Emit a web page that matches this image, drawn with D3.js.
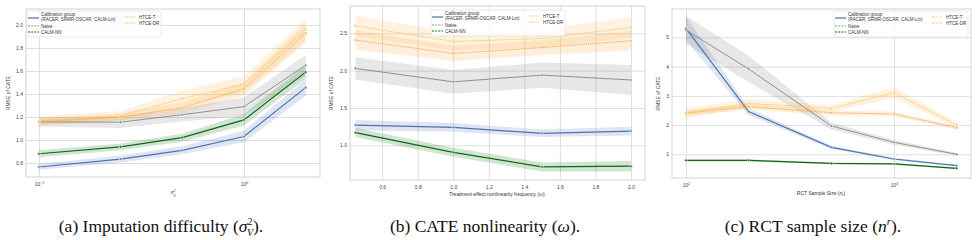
<!DOCTYPE html>
<html>
<head>
<meta charset="utf-8">
<script src="https://cdn.jsdelivr.net/npm/d3@7"></script>
<style>
body{margin:0;background:#fff;}
svg{display:block;font-family:"Liberation Sans",Arial,sans-serif;}
.axis path{display:none;}
.axis line{stroke:#dedede;stroke-width:1;}
.axis text{fill:#444;font-size:5px;}
.frame{fill:none;stroke:#d4d4d4;stroke-width:1;}
.axisLabel{fill:#333;font-size:5px;}
.legendText{fill:#333;font-size:4.5px;}
.caption{font-family:"Liberation Serif","Times New Roman",serif;font-size:17.5px;fill:#111;}
</style>
</head>
<body>
<script>
(function(){

//series names
var seriesNames = ["Calibration group", "Naive", "CALM-NN", "HTCE-T", "HTCE-DR"];
var calibSubName = "(RACER, SRMR-OSCAR, CALM-Lin)";

//panel (a): imputation difficulty
var xA = [0.1, 0.25, 0.5, 1.0, 2.0];
var calibA = [0.765, 0.834, 0.91, 1.03, 1.455];
var calibA_ci = [0.025, 0.03, 0.035, 0.05, 0.07];
var naiveA = [1.157, 1.155, 1.22, 1.29, 1.65];
var naiveA_ci = [0.04, 0.05, 0.06, 0.08, 0.09];
var calmA = [0.88, 0.94, 1.02, 1.175, 1.59];
var calmA_ci = [0.03, 0.03, 0.035, 0.05, 0.06];
var htceTA = [1.166, 1.21, 1.36, 1.485, 1.96];
var htceTA_ci = [0.04, 0.04, 0.07, 0.07, 0.1];
var htceDRA = [1.157, 1.2, 1.28, 1.445, 1.93];
var htceDRA_ci = [0.03, 0.03, 0.05, 0.06, 0.08];
var yTicksA = [0.8, 1.0, 1.2, 1.4, 1.6, 1.8, 2.0];
var xTicksA = [0.1, 1];

//panel (b): CATE nonlinearity
var xB = [0.45, 1.0, 1.5, 2.0];
var calibB = [1.27, 1.24, 1.16, 1.19];
var calibB_ci = [0.07, 0.06, 0.05, 0.06];
var naiveB = [2.03, 1.85, 1.94, 1.875];
var naiveB_ci = [0.15, 0.16, 0.17, 0.2];
var calmB = [1.17, 0.906, 0.71, 0.72];
var calmB_ci = [0.06, 0.06, 0.06, 0.07];
var htceTB = [2.6, 2.39, 2.43, 2.58];
var htceTB_ci = [0.14, 0.12, 0.12, 0.14];
var htceDRB = [2.41, 2.23, 2.31, 2.4];
var htceDRB_ci = [0.13, 0.1, 0.1, 0.13];
var yTicksB = [1.0, 1.5, 2.0, 2.5];
var xTicksB = [0.6, 0.8, 1.0, 1.2, 1.4, 1.6, 1.8, 2.0];

//panel (c): RCT sample size
var xC = [100, 200, 500, 1000, 2000];
var calibC = [5.31, 2.46, 1.24, 0.84, 0.61];
var calibC_ci = [0.4, 0.12, 0.05, 0.04, 0.03];
var naiveC = [5.25, 3.92, 1.97, 1.41, 1.0];
var naiveC_ci = [0.48, 0.45, 0.12, 0.08, 0.05];
var calmC = [0.795, 0.795, 0.69, 0.67, 0.52];
var calmC_ci = [0.04, 0.04, 0.03, 0.03, 0.03];
var htceTC = [2.42, 2.74, 2.57, 3.11, 2.0];
var htceTC_ci = [0.15, 0.15, 0.12, 0.18, 0.1];
var htceDRC = [2.4, 2.63, 2.42, 2.38, 1.91];
var htceDRC_ci = [0.1, 0.1, 0.08, 0.08, 0.06];
var yTicksC = [1, 2, 3, 4, 5];
var xTicksC = [100, 1000];

//line styles, same order as seriesNames (legend dash separate)
var styles = [
	{color: "#4c72b0", width: 1.2, dash: null, legendDash: null},
	{color: "#7a7a7a", width: 0.8, dash: null, legendDash: "2,1.2"},
	{color: "#0b6b12", width: 1.2, dash: null, legendDash: "2,1.2"},
	{color: "#ffbd52", width: 1, dash: "1,0.9", legendDash: "1,1.2"},
	{color: "#fda23a", width: 1, dash: "1,0.9", legendDash: "1,1.2"}
];

var width = 977, height = 240;

var svg = d3.select("body")
	.append("svg")
	.attr("width", width)
	.attr("height", height);

//panel frames and domains
drawPanel({
	id: "a", left: 26, right: 320, top: 9, bottom: 177,
	x: d3.scaleLog().domain([0.0865, 2.35]), y: d3.scaleLinear().domain([0.678, 2.139]),
	xs: xA, ys: [calibA, naiveA, calmA, htceTA, htceDRA],
	cis: [calibA_ci, naiveA_ci, calmA_ci, htceTA_ci, htceDRA_ci],
	xTicks: xTicksA, yTicks: yTicksA, logX: true, legend: [27, 11], ylabelX: 10
});
drawPanel({
	id: "b", left: 350, right: 645, top: 6, bottom: 180,
	x: d3.scaleLinear().domain([0.419, 2.079]), y: d3.scaleLinear().domain([0.535, 2.866]),
	xs: xB, ys: [calibB, naiveB, calmB, htceTB, htceDRB],
	cis: [calibB_ci, naiveB_ci, calmB_ci, htceTB_ci, htceDRB_ci],
	xTicks: xTicksB, yTicks: yTicksB, logX: false, legend: [431, 10], ylabelX: 333
});
drawPanel({
	id: "c", left: 672, right: 971, top: 9, bottom: 178,
	x: d3.scaleLog().domain([85.7, 2344]), y: d3.scaleLinear().domain([0.19, 5.97]),
	xs: xC, ys: [calibC, naiveC, calmC, htceTC, htceDRC],
	cis: [calibC_ci, naiveC_ci, calmC_ci, htceTC_ci, htceDRC_ci],
	xTicks: xTicksC, yTicks: yTicksC, logX: true, legend: [834, 11], ylabelX: 660
});

//x axis labels
var labA = svg.append("text").attr("class", "axisLabel")
	.attr("x", 173).attr("y", 194).attr("text-anchor", "middle")
	.style("font-style", "italic").text("σ");
labA.append("tspan").attr("dy", -2.2).style("font-size", "3.2px").text("2");
labA.append("tspan").attr("dx", -1.8).attr("dy", 5).style("font-size", "3.2px").text("V");

svg.append("text").attr("class", "axisLabel")
	.attr("x", 497).attr("y", 196).attr("text-anchor", "middle")
	.text("Treatment-effect nonlinearity frequency (ω)");

var labC = svg.append("text").attr("class", "axisLabel")
	.attr("x", 821).attr("y", 195).attr("text-anchor", "middle")
	.text("RCT Sample Size (");
labC.append("tspan").style("font-style", "italic").text("n");
labC.append("tspan").attr("dy", 1).style("font-size", "3.5px").style("font-style", "italic").text("r");
labC.append("tspan").attr("dy", -1).text(")");

//captions
var capA = svg.append("text").attr("class", "caption")
	.attr("x", 161).attr("y", 232).attr("text-anchor", "middle")
	.text("(a) Imputation difficulty (");
capA.append("tspan").style("font-style", "italic").text("σ");
capA.append("tspan").attr("dy", -7).style("font-size", "10px").text("2");
capA.append("tspan").attr("dx", -5.5).attr("dy", 11).style("font-size", "10px").style("font-style", "italic").text("V");
capA.append("tspan").attr("dy", -4).text(").");

var capB = svg.append("text").attr("class", "caption")
	.attr("x", 485).attr("y", 232).attr("text-anchor", "middle")
	.text("(b) CATE nonlinearity (");
capB.append("tspan").style("font-style", "italic").text("ω");
capB.append("tspan").text(").");

var capC = svg.append("text").attr("class", "caption")
	.attr("x", 813).attr("y", 232).attr("text-anchor", "middle")
	.text("(c) RCT sample size (");
capC.append("tspan").style("font-style", "italic").text("n");
capC.append("tspan").attr("dy", -7).style("font-size", "11px").style("font-style", "italic").text("r");
capC.append("tspan").attr("dy", 7).text(").");

//draw one subplot
function drawPanel(p){
	var w = p.right - p.left,
		h = p.bottom - p.top;
	p.x.range([0, w]);
	p.y.range([h, 0]);

	var g = svg.append("g")
		.attr("transform", "translate(" + p.left + "," + p.top + ")");

	//clip marks to the frame
	g.append("clipPath").attr("id", "clip" + p.id)
		.append("rect").attr("width", w).attr("height", h);

	//y axis with gridlines
	var yAxis = d3.axisLeft(p.y)
		.tickValues(p.yTicks)
		.tickSize(-w)
		.tickPadding(3)
		.tickFormat(function(d){ return p.id == "c" ? d3.format("d")(d) : d3.format(".1f")(d); });
	g.append("g").attr("class", "axis").call(yAxis);

	//x axis with gridlines
	var xAxis = d3.axisBottom(p.x)
		.tickValues(p.xTicks)
		.tickSize(-h)
		.tickPadding(5)
		.tickFormat(function(d){ return p.logX ? "10" : d3.format(".1f")(d); });
	var xg = g.append("g").attr("class", "axis")
		.attr("transform", "translate(0," + h + ")")
		.call(xAxis);

	//superscript exponents for the log axes
	if (p.logX){
		xg.selectAll(".tick text").each(function(d){
			var e = Math.round(Math.log10(d));
			d3.select(this).append("tspan")
				.attr("dy", -2)
				.style("font-size", "3.5px")
				.text(e < 0 ? "\u2212" + (-e) : e);
		});
	}

	//frame
	g.append("rect").attr("class", "frame")
		.attr("width", w).attr("height", h);

	//y label
	svg.append("text").attr("class", "axisLabel")
		.attr("transform", "translate(" + p.ylabelX + "," + (p.top + h / 2) + ") rotate(-90)")
		.attr("text-anchor", "middle")
		.text("RMSE of CATE");

	var marks = g.append("g").attr("clip-path", "url(#clip" + p.id + ")");

	//confidence bands
	p.ys.forEach(function(vals, s){
		var area = d3.area()
			.x(function(d, i){ return p.x(p.xs[i]); })
			.y0(function(d, i){ return p.y(d - p.cis[s][i]); })
			.y1(function(d, i){ return p.y(d + p.cis[s][i]); });
		marks.append("path")
			.datum(vals)
			.attr("d", area)
			.style("fill", styles[s].color)
			.style("fill-opacity", 0.18)
			.style("stroke", "none");
	});

	//lines and markers
	p.ys.forEach(function(vals, s){
		var line = d3.line()
			.x(function(d, i){ return p.x(p.xs[i]); })
			.y(function(d){ return p.y(d); });
		marks.append("path")
			.datum(vals)
			.attr("d", line)
			.style("fill", "none")
			.style("stroke", styles[s].color)
			.style("stroke-width", styles[s].width)
			.style("stroke-dasharray", styles[s].dash);
		marks.selectAll(".pt" + s)
			.data(vals)
			.enter()
			.append("circle")
			.attr("cx", function(d, i){ return p.x(p.xs[i]); })
			.attr("cy", function(d){ return p.y(d); })
			.attr("r", 1.3)
			.style("fill", styles[s].color)
			.style("stroke", "#fff")
			.style("stroke-width", 0.6);
	});

	drawLegend(p.legend[0], p.legend[1]);
};

//legend box with two columns
function drawLegend(lx, ly){
	var lg = svg.append("g")
		.attr("transform", "translate(" + lx + "," + ly + ")");
	lg.append("rect")
		.attr("width", 134).attr("height", 26).attr("rx", 1.5)
		.style("fill", "#fff").style("fill-opacity", 0.85)
		.style("stroke", "#d8d8d8").style("stroke-width", 0.6);

	//handle positions: [x of handle, y of handle, x of text, y of text]
	var slots = [[1, 7, 14, 4.5], [1, 15, 14, 16.5], [1, 21, 14, 22.5], [98, 6, 112, 7.5], [98, 12, 112, 13.5]];
	seriesNames.forEach(function(name, s){
		var sl = slots[s];
		lg.append("line")
			.attr("x1", sl[0]).attr("x2", sl[0] + 11)
			.attr("y1", sl[1]).attr("y2", sl[1])
			.style("stroke", styles[s].color)
			.style("stroke-width", styles[s].width)
			.style("stroke-dasharray", styles[s].legendDash);
		lg.append("text").attr("class", "legendText")
			.attr("x", sl[2]).attr("y", sl[3])
			.text(name);
	});
	lg.append("text").attr("class", "legendText")
		.attr("x", 14).attr("y", 10.2)
		.text(calibSubName);
};

})();
</script>
</body>
</html>
